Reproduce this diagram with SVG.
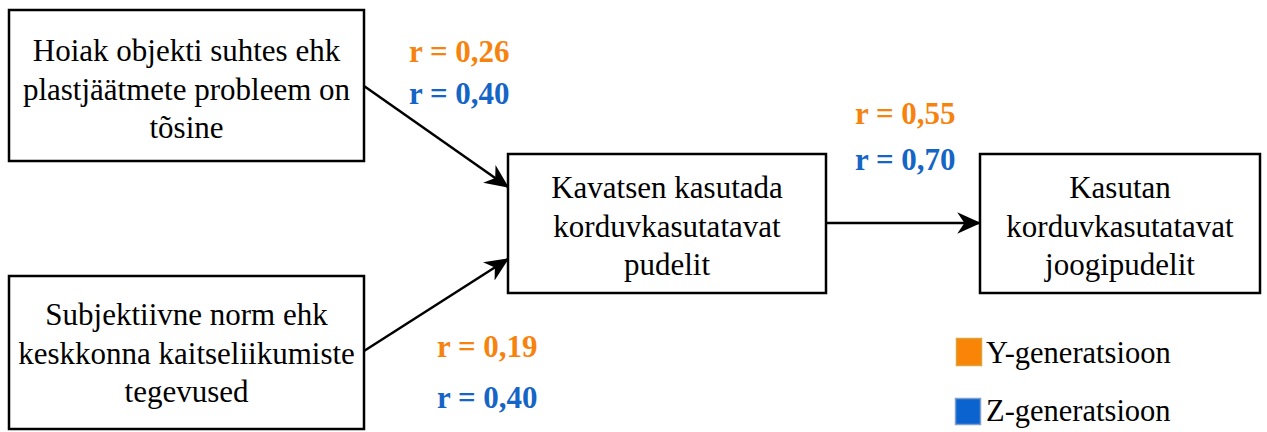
<svg xmlns="http://www.w3.org/2000/svg" width="1267" height="432" viewBox="0 0 1267 432">
<style>
.box{fill:#fff;stroke:#000;stroke-width:2.5}
.t{font-family:"Liberation Serif","Times New Roman",serif;font-size:31px;fill:#000;text-anchor:middle}
.r{font-family:"Liberation Serif","Times New Roman",serif;font-size:31px;font-weight:bold}
.o{fill:#F7830F}
.b{fill:#1565C6}
.lg{font-family:"Liberation Serif","Times New Roman",serif;font-size:30.5px;fill:#000}
</style>
<defs>
<marker id="ah2" viewBox="0 0 10 10" refX="9.5" refY="5" markerWidth="24" markerHeight="24" markerUnits="userSpaceOnUse" orient="auto">
<path d="M0,0.5 L10,5 L0,9.5 L3,5 Z" fill="#000"/>
</marker>
</defs>
<g id="connectors">
<line x1="364" y1="86" x2="508" y2="187" stroke="#000" stroke-width="2.5" marker-end="url(#ah2)"/>
<line x1="364" y1="351" x2="508" y2="259" stroke="#000" stroke-width="2.5" marker-end="url(#ah2)"/>
<line x1="826" y1="223" x2="980" y2="223" stroke="#000" stroke-width="2.5" marker-end="url(#ah2)"/>
</g>
<g id="node-hoiak">
<rect class="box" x="9" y="10" width="355" height="151"/>
<text class="t" x="186.5" y="61">Hoiak objekti suhtes ehk</text>
<text class="t" x="186.5" y="100">plastjäätmete probleem on</text>
<text class="t" x="186.5" y="138">tõsine</text>
</g>
<g id="node-norm">
<rect class="box" x="9" y="276" width="355" height="153"/>
<text class="t" x="186.5" y="325">Subjektiivne norm ehk</text>
<text class="t" x="186.5" y="364">keskkonna kaitseliikumiste</text>
<text class="t" x="186.5" y="402">tegevused</text>
</g>
<g id="node-kavatsen">
<rect class="box" x="508" y="154" width="318" height="139"/>
<text class="t" x="667" y="198">Kavatsen kasutada</text>
<text class="t" x="667" y="237">korduvkasutatavat</text>
<text class="t" x="667" y="275">pudelit</text>
</g>
<g id="node-kasutan">
<rect class="box" x="980" y="154" width="280" height="139"/>
<text class="t" x="1120" y="198">Kasutan</text>
<text class="t" x="1120" y="237">korduvkasutatavat</text>
<text class="t" x="1120" y="275">joogipudelit</text>
</g>
<g id="labels">
<text class="r o" x="409" y="62">r = 0,26</text>
<text class="r b" x="409" y="104">r = 0,40</text>
<text class="r o" x="855" y="124">r = 0,55</text>
<text class="r b" x="855" y="170">r = 0,70</text>
<text class="r o" x="437" y="357">r = 0,19</text>
<text class="r b" x="437" y="408">r = 0,40</text>
</g>
<g id="legend">
<rect x="956.5" y="338.5" width="25" height="27" fill="#FA8405" stroke="#D9A53A" stroke-width="1.5"/>
<text class="lg" x="986" y="363">Y-generatsioon</text>
<rect x="955.5" y="398.5" width="25" height="26" fill="#0B63CF" stroke="#7F9FC8" stroke-width="1.5"/>
<text class="lg" x="986" y="421">Z-generatsioon</text>
</g>
</svg>
